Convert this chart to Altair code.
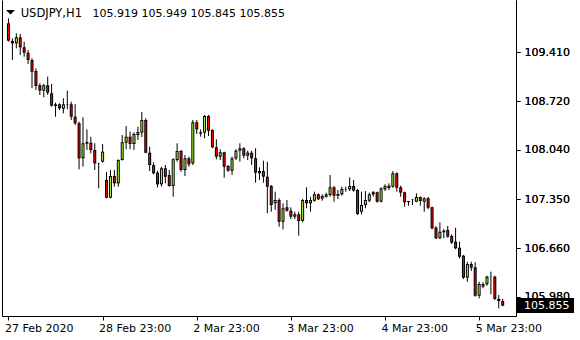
import altair as alt
import pandas as pd

symbol = "USDJPY,H1"

opens = [109.817, 109.569, 109.536, 109.620, 109.480, 109.404, 109.302, 109.148, 108.947, 108.871,
         108.947, 108.835, 108.680, 108.680, 108.618, 108.675, 108.680, 108.506, 108.414, 107.922,
         108.128, 108.141, 108.039, 107.852, 107.875, 107.618, 107.369, 107.674, 107.571, 107.898,
         108.141, 108.225, 108.123, 108.249, 108.282, 108.460, 108.001, 107.828, 107.720, 107.557,
         107.782, 107.688, 107.534, 107.898, 108.025, 107.758, 107.922, 107.852, 108.428, 108.287,
         108.282, 108.516, 108.319, 108.077, 107.945, 108.007, 107.814, 107.748, 107.922, 108.029,
         108.063, 107.959, 108.001, 107.922, 107.712, 107.744, 107.664, 107.534, 107.291, 107.337,
         107.032, 107.235, 107.187, 107.103, 107.136, 107.046, 107.337, 107.291, 107.327, 107.417,
         107.355, 107.383, 107.407, 107.515, 107.397, 107.417, 107.491, 107.487, 107.534, 107.477,
         107.173, 107.267, 107.327, 107.417, 107.445, 107.313, 107.487, 107.505, 107.524, 107.712,
         107.515, 107.445, 107.323, 107.341, 107.313, 107.379, 107.313, 107.361, 107.235, 106.948,
         106.800, 106.884, 106.916, 106.832, 106.752, 106.668, 106.555, 106.247, 106.439, 106.392,
         105.994, 106.120, 106.154, 106.261, 106.261, 105.948, 105.919]
highs = [109.887, 109.606, 109.677, 109.667, 109.559, 109.442, 109.326, 109.185, 108.975, 108.965,
         109.068, 108.965, 108.703, 108.694, 108.764, 108.871, 108.717, 108.684, 108.436, 108.498,
         108.329, 108.225, 108.133, 107.861, 108.123, 107.730, 107.758, 107.758, 107.908, 108.249,
         108.376, 108.296, 108.287, 108.366, 108.572, 108.484, 108.085, 107.866, 107.748, 107.804,
         107.828, 107.758, 107.922, 108.133, 108.039, 107.969, 107.945, 108.460, 108.460, 108.329,
         108.530, 108.530, 108.329, 108.189, 108.049, 108.015, 107.828, 107.945, 108.049, 108.133,
         108.077, 108.029, 108.029, 108.063, 107.796, 107.889, 107.875, 107.548, 107.454, 107.361,
         107.291, 107.337, 107.235, 107.173, 107.173, 107.351, 107.515, 107.383, 107.454, 107.431,
         107.417, 107.440, 107.688, 107.534, 107.477, 107.524, 107.524, 107.656, 107.618, 107.491,
         107.454, 107.463, 107.440, 107.463, 107.454, 107.515, 107.557, 107.571, 107.744, 107.726,
         107.538, 107.454, 107.323, 107.351, 107.431, 107.386, 107.375, 107.379, 107.246, 106.972,
         107.024, 106.930, 106.972, 106.856, 106.948, 106.752, 106.565, 106.471, 106.471, 106.463,
         106.190, 106.182, 106.275, 106.331, 106.275, 106.004, 105.949]
lows = [109.559, 109.302, 109.466, 109.372, 109.348, 109.246, 108.905, 108.881, 108.811, 108.778,
        108.811, 108.647, 108.506, 108.600, 108.554, 108.610, 108.460, 108.390, 107.768, 107.804,
        108.039, 107.992, 107.758, 107.501, 107.861, 107.361, 107.361, 107.524, 107.524, 107.890,
        108.049, 108.049, 108.039, 108.179, 108.221, 107.992, 107.744, 107.698, 107.515, 107.524,
        107.571, 107.524, 107.383, 107.875, 107.734, 107.674, 107.804, 107.828, 108.263, 108.225,
        108.203, 108.235, 108.063, 107.908, 107.898, 107.650, 107.734, 107.688, 107.898, 107.875,
        107.922, 107.898, 107.828, 107.580, 107.618, 107.580, 107.150, 107.173, 107.197, 106.962,
        106.926, 107.173, 107.070, 107.070, 106.836, 107.024, 107.221, 107.173, 107.313, 107.337,
        107.327, 107.369, 107.383, 107.313, 107.351, 107.397, 107.454, 107.463, 107.454, 107.127,
        107.136, 107.221, 107.305, 107.383, 107.299, 107.305, 107.463, 107.477, 107.510, 107.454,
        107.383, 107.243, 107.257, 107.267, 107.305, 107.257, 107.173, 107.207, 106.926, 106.790,
        106.790, 106.800, 106.808, 106.720, 106.645, 106.519, 106.228, 106.190, 106.341, 105.980,
        105.957, 106.098, 106.134, 106.014, 105.934, 105.817, 105.845]
closes = [109.573, 109.536, 109.620, 109.480, 109.404, 109.302, 109.138, 108.937, 108.871, 108.947,
          108.843, 108.661, 108.656, 108.624, 108.680, 108.680, 108.506, 108.414, 107.922, 108.133,
          108.150, 108.039, 107.852, 107.848, 108.015, 107.369, 107.674, 107.571, 107.898, 108.147,
          108.225, 108.123, 108.263, 108.291, 108.460, 108.001, 107.828, 107.712, 107.557, 107.782,
          107.664, 107.534, 107.908, 108.025, 107.758, 107.922, 107.838, 108.428, 108.329, 108.268,
          108.516, 108.310, 108.077, 107.945, 108.007, 107.804, 107.748, 107.922, 108.029, 108.063,
          107.959, 108.001, 107.922, 107.720, 107.744, 107.664, 107.524, 107.267, 107.337, 107.032,
          107.221, 107.187, 107.103, 107.136, 107.042, 107.337, 107.291, 107.337, 107.417, 107.347,
          107.393, 107.417, 107.515, 107.397, 107.421, 107.491, 107.487, 107.534, 107.468, 107.141,
          107.267, 107.337, 107.417, 107.445, 107.313, 107.501, 107.534, 107.538, 107.712, 107.510,
          107.440, 107.305, 107.309, 107.337, 107.379, 107.323, 107.361, 107.229, 106.940, 106.800,
          106.892, 106.906, 106.822, 106.738, 106.659, 106.541, 106.247, 106.439, 106.387, 105.994,
          106.158, 106.158, 106.261, 106.258, 105.948, 105.919, 105.855]

x_tick_index = [0, 24, 48, 72, 96, 120]
x_tick_labels = ["27 Feb 2020", "28 Feb 23:00", "2 Mar 23:00", "3 Mar 23:00", "4 Mar 23:00", "5 Mar 23:00"]
y_ticks = [109.41, 108.72, 108.04, 107.35, 106.66, 105.98]

GREEN = "#adff2f"
RED = "#ff0000"
FONT = "DejaVu Sans"
W, H = 514, 316
PX = 71.25  # pixels per price unit of the y scale (used only to inset body fills by 1px)

df = pd.DataFrame({"i": list(range(len(opens))), "open": opens, "high": highs,
                   "low": lows, "close": closes})
last = pd.DataFrame({"close": [closes[-1]]})
head = pd.DataFrame({
    "sym": [symbol],
    "ohlc": [" ".join(f"{v:.3f}" for v in (opens[-1], highs[-1], lows[-1], closes[-1]))],
})

xscale = alt.Scale(domain=[-0.375, 128.125], nice=False, zero=False)
yscale = alt.Scale(domain=[105.709, 110.144], nice=False, zero=False)

label_expr = ("[" + ",".join(f"'{s}'" for s in x_tick_labels) + "][indexof("
              + str(x_tick_index) + ", datum.value)]")

xaxis = alt.Axis(values=x_tick_index, labelExpr=label_expr, orient="bottom", tickSize=4,
                 labelPadding=2, labelAlign="left", labelBaseline="top", labelFont=FONT,
                 labelFontSize=11, labelColor="black", domainColor="black", tickColor="black",
                 grid=False, title=None, labelOverlap=False, labelFlush=False, labelBound=False,
                 labelOffset=-4)

yaxis_right = alt.Axis(orient="right", values=y_ticks, format=".3f", tickSize=4,
                       labelPadding=4, labelFont=FONT, labelFontSize=11,
                       labelColor="black", domainColor="black", tickColor="black",
                       grid=False, title=None, labelOverlap=False, labelFlush=False,
                       labelBound=False)
yaxis_left = alt.Axis(orient="left", labels=False, ticks=False, domain=True,
                      domainColor="black", grid=False, title=None)

wicks = alt.Chart(df).mark_rule(color="black", strokeWidth=1).encode(
    x=alt.X("i:Q", scale=xscale, axis=xaxis),
    y=alt.Y("low:Q", scale=yscale, axis=yaxis_left),
    y2="high:Q",
)

body_base = alt.Chart(df).transform_calculate(
    top="max(datum.open, datum.close)",
    bot="min(datum.open, datum.close)",
    bull="datum.close >= datum.open",
)

bodies_black = body_base.mark_bar(size=3, color="black").encode(
    x=alt.X("i:Q", scale=xscale, axis=xaxis),
    y=alt.Y("top:Q", scale=yscale, axis=yaxis_right),
    y2="bot:Q",
)

bodies_fill = body_base.transform_filter(
    f"(datum.top - datum.bot) * {PX} > 2.2"
).mark_bar(size=1, yOffset=1, y2Offset=-1).encode(
    x=alt.X("i:Q", scale=xscale, axis=xaxis),
    y=alt.Y("top:Q", scale=yscale, axis=yaxis_right),
    y2="bot:Q",
    fill=alt.condition("datum.bull", alt.value(GREEN), alt.value(RED)),
)

box = alt.Chart(last).mark_point(
    shape="M-1,-0.263L1,-0.263L1,0.263L-1,0.263Z", size=3249, filled=True,
    color="black", opacity=1, strokeWidth=0,
).encode(
    x=alt.value(W + 29.5),
    y=alt.Y("close:Q", scale=yscale, axis=None),
)

price_text = alt.Chart(last).mark_text(
    align="left", baseline="middle", color="white", font=FONT, fontSize=11,
).encode(
    x=alt.value(W + 8),
    y=alt.Y("close:Q", scale=yscale, axis=None),
    text=alt.Text("close:Q", format=".3f"),
)

tri = alt.Chart(head).mark_point(
    shape="M-1,-0.5L1,-0.5L0,0.5Z", size=81, filled=True, color="black",
    opacity=1, strokeWidth=0,
).encode(x=alt.value(8.5), y=alt.value(12.3))

head_sym = alt.Chart(head).mark_text(
    align="left", baseline="alphabetic", color="black", font=FONT, fontSize=11.5,
).encode(x=alt.value(18.7), y=alt.value(16.5), text="sym:N")

head_vals = alt.Chart(head).mark_text(
    align="left", baseline="alphabetic", color="black", font=FONT, fontSize=11,
).encode(x=alt.value(90.5), y=alt.value(16.5), text="ohlc:N")

chart = alt.layer(
    wicks, bodies_black, bodies_fill, box, price_text, tri, head_sym, head_vals
).resolve_axis(
    y="independent"
).properties(
    width=W, height=H,
    autosize=alt.AutoSizeParams(type="none"),
    padding={"left": 2, "top": 0, "right": 64, "bottom": 24},
    background="white",
).configure_view(stroke=None)

chart.save("out.html", embed_options={"renderer": "svg", "actions": False})
